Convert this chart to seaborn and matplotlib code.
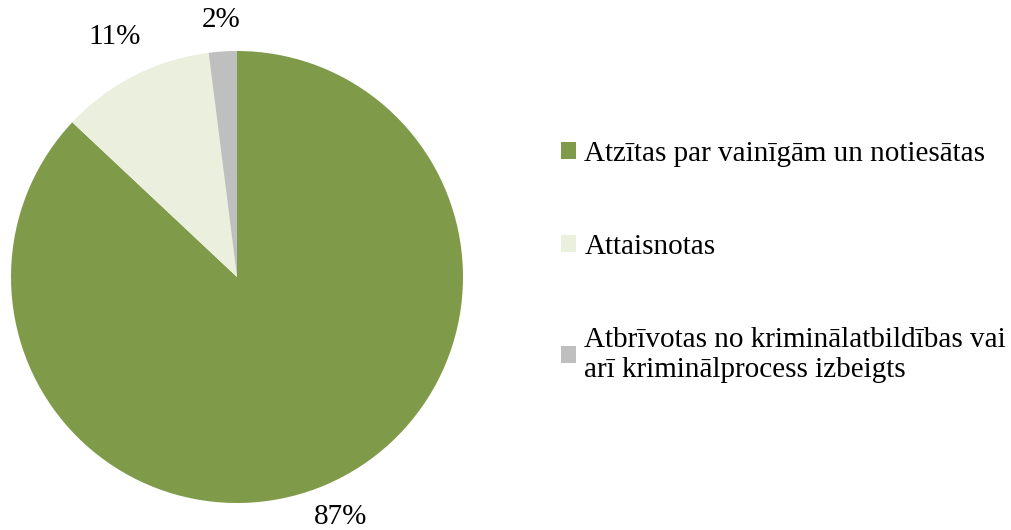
import matplotlib
matplotlib.use("Agg")
import matplotlib.pyplot as plt
import seaborn as sns
import numpy as np

sns.set_theme(style="white")
plt.rcParams['font.family'] = ['Liberation Serif', 'DejaVu Serif']
plt.rcParams['text.color'] = 'black'

categories = ["Atzītas par vainīgām un notiesātas",
              "Attaisnotas",
              "Atbrīvotas no kriminālatbildības vai\narī kriminālprocess izbeigts"]
values = [87, 11, 2]
colors = ["#7F9B4A", "#EBF0DE", "#BFBFBF"]
label_dist = [1.155, 1.19, 1.14]

W, H = 1012, 530
fig = plt.figure(figsize=(W / 100, H / 100), dpi=100)
cx, cy, r = 237, 277, 226
ax = fig.add_axes([(cx - r) / W, (H - cy - r) / H, 2 * r / W, 2 * r / H])
wedges, texts, autotexts = ax.pie(values, colors=colors, startangle=90, counterclock=False,
                                  autopct='%.0f%%', pctdistance=1.2,
                                  wedgeprops=dict(linewidth=0),
                                  textprops=dict(fontsize=21, color='black'))
for w, t, d in zip(wedges, autotexts, label_dist):
    ang = np.deg2rad((w.theta1 + w.theta2) / 2)
    t.set_position((d * np.cos(ang), d * np.sin(ang)))
    t.set_clip_on(False)
ax.set_xlim(-1, 1)
ax.set_ylim(-1, 1)
ax.set_aspect('equal')
ax.axis('off')

leg = fig.legend(wedges, categories, loc='center left', bbox_to_anchor=(561 / W, 1 - 262 / H),
                 frameon=False, fontsize=21, labelspacing=2.3, handlelength=0.5,
                 handleheight=0.5, handletextpad=0.3, borderaxespad=0, borderpad=0)
for t in leg.get_texts():
    t.set_color('black')

fig.savefig("out.png", dpi=100)
